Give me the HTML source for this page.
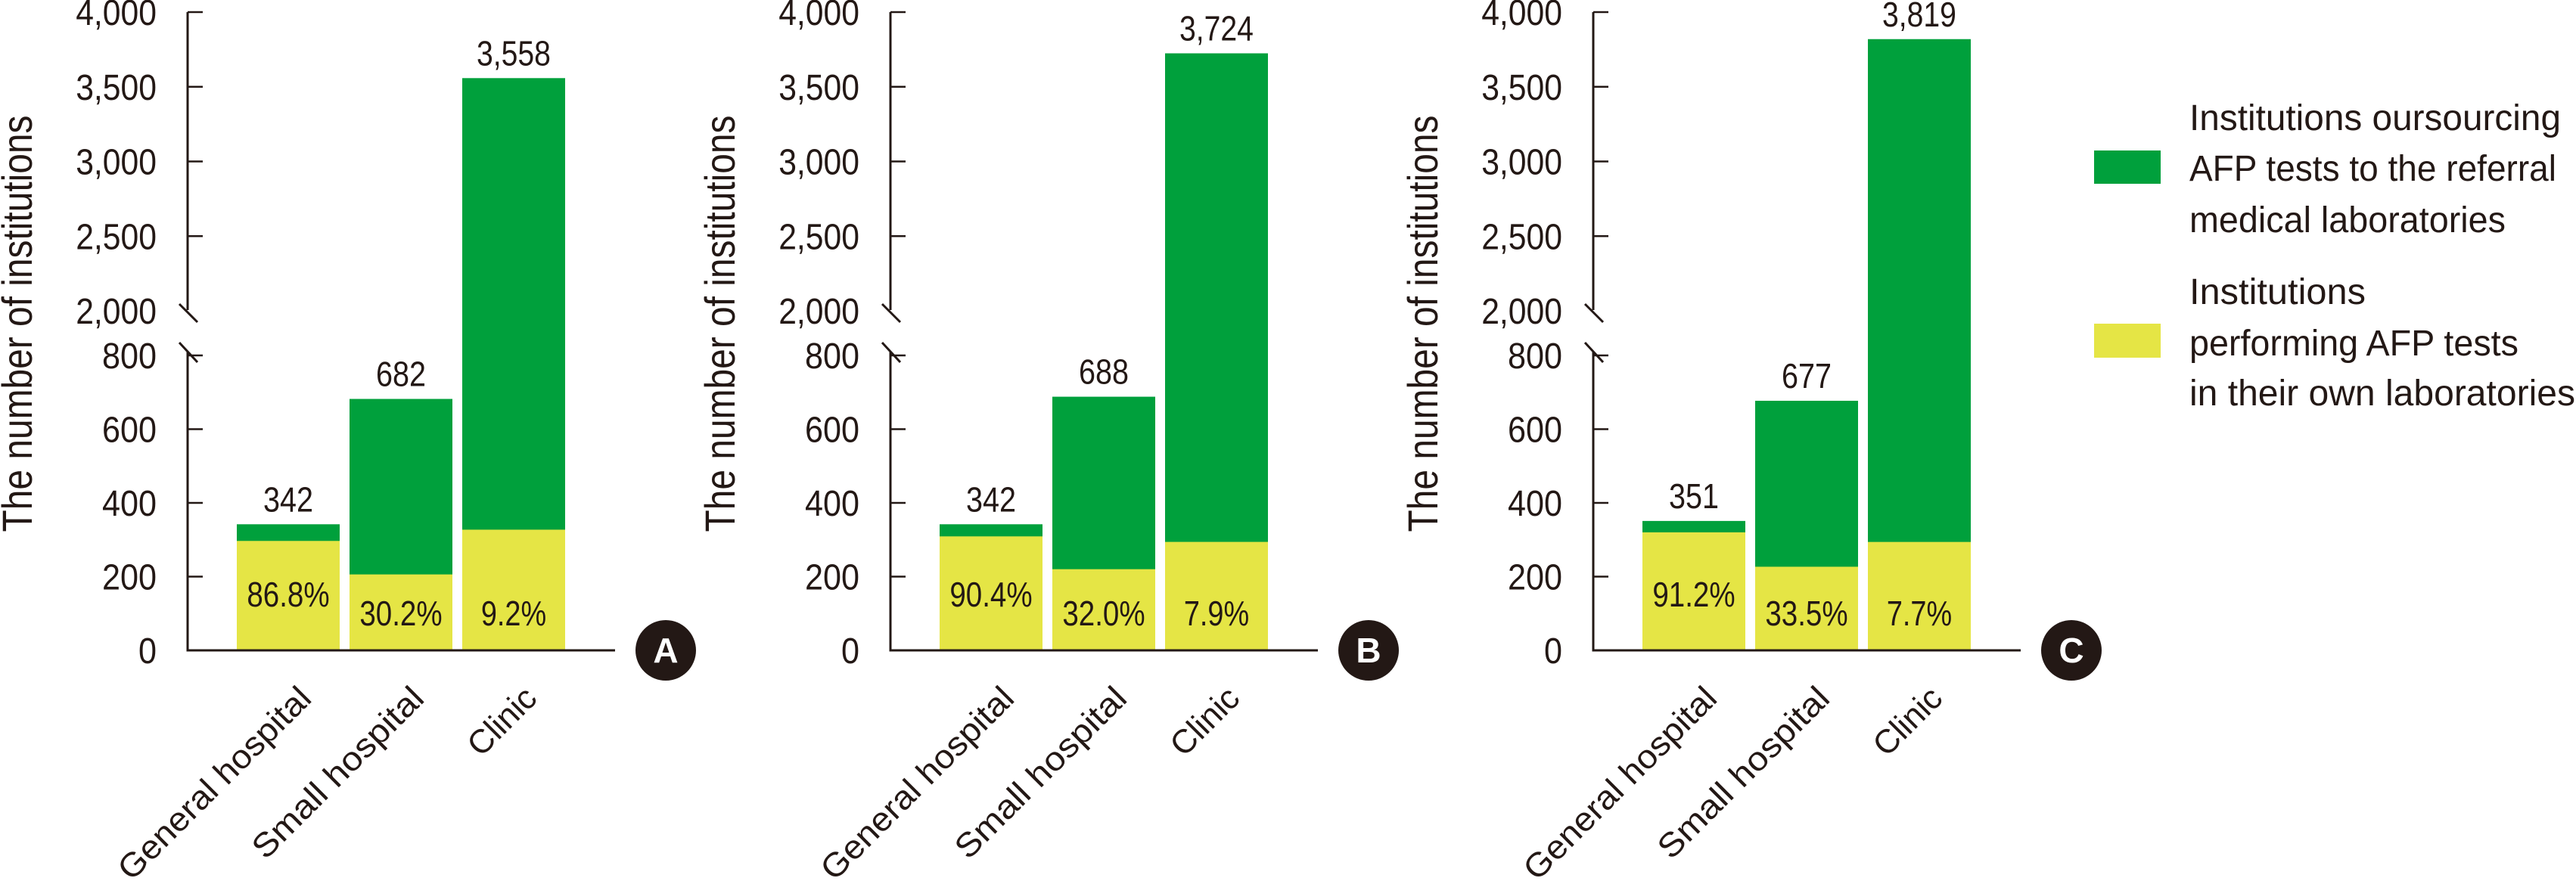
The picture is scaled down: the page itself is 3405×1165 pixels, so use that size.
<!DOCTYPE html>
<html><head><meta charset="utf-8">
<style>
html,body{margin:0;padding:0;background:#fff;}
svg{display:block;}
text{font-family:"Liberation Sans Narrow","Liberation Sans",sans-serif;fill:#231815;}
</style></head>
<body>
<svg id="chart" width="3405" height="1165" viewBox="0 0 3405 1165" xmlns="http://www.w3.org/2000/svg">
  <g id="legend">
    <rect x="2768" y="199" width="88" height="44" fill="#00a03c"/>
    <text x="2894" y="172" font-size="48" textLength="491" lengthAdjust="spacingAndGlyphs">Institutions oursourcing</text>
    <text x="2894" y="239" font-size="48" textLength="485" lengthAdjust="spacingAndGlyphs">AFP tests to the referral</text>
    <text x="2894" y="307" font-size="48" textLength="418" lengthAdjust="spacingAndGlyphs">medical laboratories</text>
    <rect x="2768" y="428" width="88" height="45" fill="#e5e545"/>
    <text x="2894" y="402" font-size="48" textLength="233" lengthAdjust="spacingAndGlyphs">Institutions</text>
    <text x="2894" y="470" font-size="48" textLength="435" lengthAdjust="spacingAndGlyphs">performing AFP tests</text>
    <text x="2894" y="536" font-size="48" textLength="510" lengthAdjust="spacingAndGlyphs">in their own laboratories</text>
  </g>
</svg>
<script>
const categories = ["General hospital", "Small hospital", "Clinic"];
const panelLetters = ["A", "B", "C"];
const totalsA = [342, 682, 3558];
const totalsB = [342, 688, 3724];
const totalsC = [351, 677, 3819];
const pctA = [86.8, 30.2, 9.2];
const pctB = [90.4, 32.0, 7.9];
const pctC = [91.2, 33.5, 7.7];
const lowerTicks = [0, 200, 400, 600, 800];
const upperTicks = [2000, 2500, 3000, 3500, 4000];
const upperTickLabels = ["2,000", "2,500", "3,000", "3,500", "4,000"];

const NS = "http://www.w3.org/2000/svg";
const svg = document.getElementById("chart");
const GREEN = "#00a03c", YELLOW = "#e5e545", INK = "#231815";
const Y0 = 860, LOW_PX = 0.4875, Y2000 = 411, UP_PX = 0.1975;
const CAT_LEN = [340, 300, 108];
function yScale(v) {
  if (v <= 800) return Y0 - v * LOW_PX;
  if (v >= 2000) return Y2000 - (v - 2000) * UP_PX;
  return (Y0 - 800 * LOW_PX) + (v - 800) / 1200 * (Y2000 - (Y0 - 800 * LOW_PX));
}
function mk(tag, attrs, parent) {
  const e = document.createElementNS(NS, tag);
  for (const k in attrs) e.setAttribute(k, attrs[k]);
  parent.appendChild(e);
  return e;
}
function fmt(n) { return n.toLocaleString("en-US"); }
function numLen(s, dw) {
  let w = 0;
  for (const ch of s) w += (ch === "," || ch === ".") ? dw * 0.45 : (ch === "%" ? dw * 1.3 : dw);
  return w;
}

const panels = [
  {ax: 248, totals: totalsA, pct: pctA},
  {ax: 1177, totals: totalsB, pct: pctB},
  {ax: 2106, totals: totalsC, pct: pctC}
];
const BAR_OFF = 65, BAR_W = 136, BAR_STEP = 149;

panels.forEach((p, pi) => {
  const g = mk("g", {}, svg);
  
  
  const ax = p.ax;
  const yt = mk("text", {x: 0, y: 0, "font-size": 56, "text-anchor": "middle", textLength: 551, lengthAdjust: "spacingAndGlyphs", transform: `translate(${ax - 206},428) rotate(-90)`}, g);
  yt.textContent = "The number of institutions";
  
  
  const al1 = mk("line", {x1: ax, y1: 16, x2: ax, y2: 410, stroke: INK, "stroke-width": 3}, g);
  
  
  const al2 = mk("line", {x1: ax, y1: 465, x2: ax, y2: Y0, stroke: INK, "stroke-width": 3}, g);
  
  
  const xl = mk("line", {x1: ax - 1.5, y1: Y0, x2: ax + 565, y2: Y0, stroke: INK, "stroke-width": 3}, g);
  
  
  [[402, 426], [453, 479]].forEach(([a, b]) => {
    const br = mk("line", {x1: ax - 11, y1: a, x2: ax + 13, y2: b, stroke: INK, "stroke-width": 3}, g);
    
    
  });
  lowerTicks.forEach(t => {
    const y = yScale(t);
    if (t > 0) {
      const tl = mk("line", {x1: ax, y1: y, x2: ax + 20, y2: y, stroke: INK, "stroke-width": 2.5}, g);
      
      
    }
    const s = String(t);
    const tx = mk("text", {x: ax - 41, y: y + 17, "font-size": 48, "text-anchor": "end", textLength: numLen(s, 24), lengthAdjust: "spacingAndGlyphs"}, g);
    tx.textContent = s;
    
    
  });
  upperTicks.forEach((t, i) => {
    const y = yScale(t);
    if (t > 2000) {
      const tl = mk("line", {x1: ax, y1: y, x2: ax + 20, y2: y, stroke: INK, "stroke-width": 2.5}, g);
      
      
    }
    const s = upperTickLabels[i];
    const tx = mk("text", {x: ax - 41, y: y + 17, "font-size": 48, "text-anchor": "end", textLength: numLen(s, 24), lengthAdjust: "spacingAndGlyphs"}, g);
    tx.textContent = s;
    
    
  });
  categories.forEach((c, i) => {
    const x = ax + BAR_OFF + i * BAR_STEP;
    const cx = x + BAR_W / 2;
    const total = p.totals[i];
    const own = total * p.pct[i] / 100;
    const yt2 = yScale(total), yo = yScale(own);
    const gb = mk("rect", {x: x, y: yt2, width: BAR_W, height: Y0 - 1.5 - yt2, fill: GREEN}, g);
    
    
    const yb = mk("rect", {x: x, y: yo, width: BAR_W, height: Y0 - 1.5 - yo, fill: YELLOW}, g);
    
    
    const vs = fmt(total);
    const vl = mk("text", {x: cx, y: yt2 - 17, "font-size": 46, "text-anchor": "middle", textLength: numLen(vs, 22), lengthAdjust: "spacingAndGlyphs"}, g);
    vl.textContent = vs;
    
    
    const ps = p.pct[i].toFixed(1) + "%";
    const pl = mk("text", {x: cx, y: i === 0 ? 802 : 827, "font-size": 46, "text-anchor": "middle", textLength: numLen(ps, 23), lengthAdjust: "spacingAndGlyphs"}, g);
    pl.textContent = ps;
    
    
    const cl = mk("text", {x: 0, y: 0, "font-size": 44, "text-anchor": "end", textLength: CAT_LEN[i], lengthAdjust: "spacingAndGlyphs", transform: `translate(${cx + 33},926) rotate(-45)`}, g);
    cl.textContent = c;
    
    
  });
  const circ = mk("circle", {cx: ax + 632, cy: Y0, r: 40, fill: INK}, g);
  
  
  const lt = mk("text", {x: ax + 632, y: Y0 + 16, "font-size": 46, "font-weight": "bold", "text-anchor": "middle", style: "fill:#fff;font-family:'Liberation Sans',sans-serif"}, g);
  lt.textContent = panelLetters[pi];
  
  
});
</script>
</body></html>
